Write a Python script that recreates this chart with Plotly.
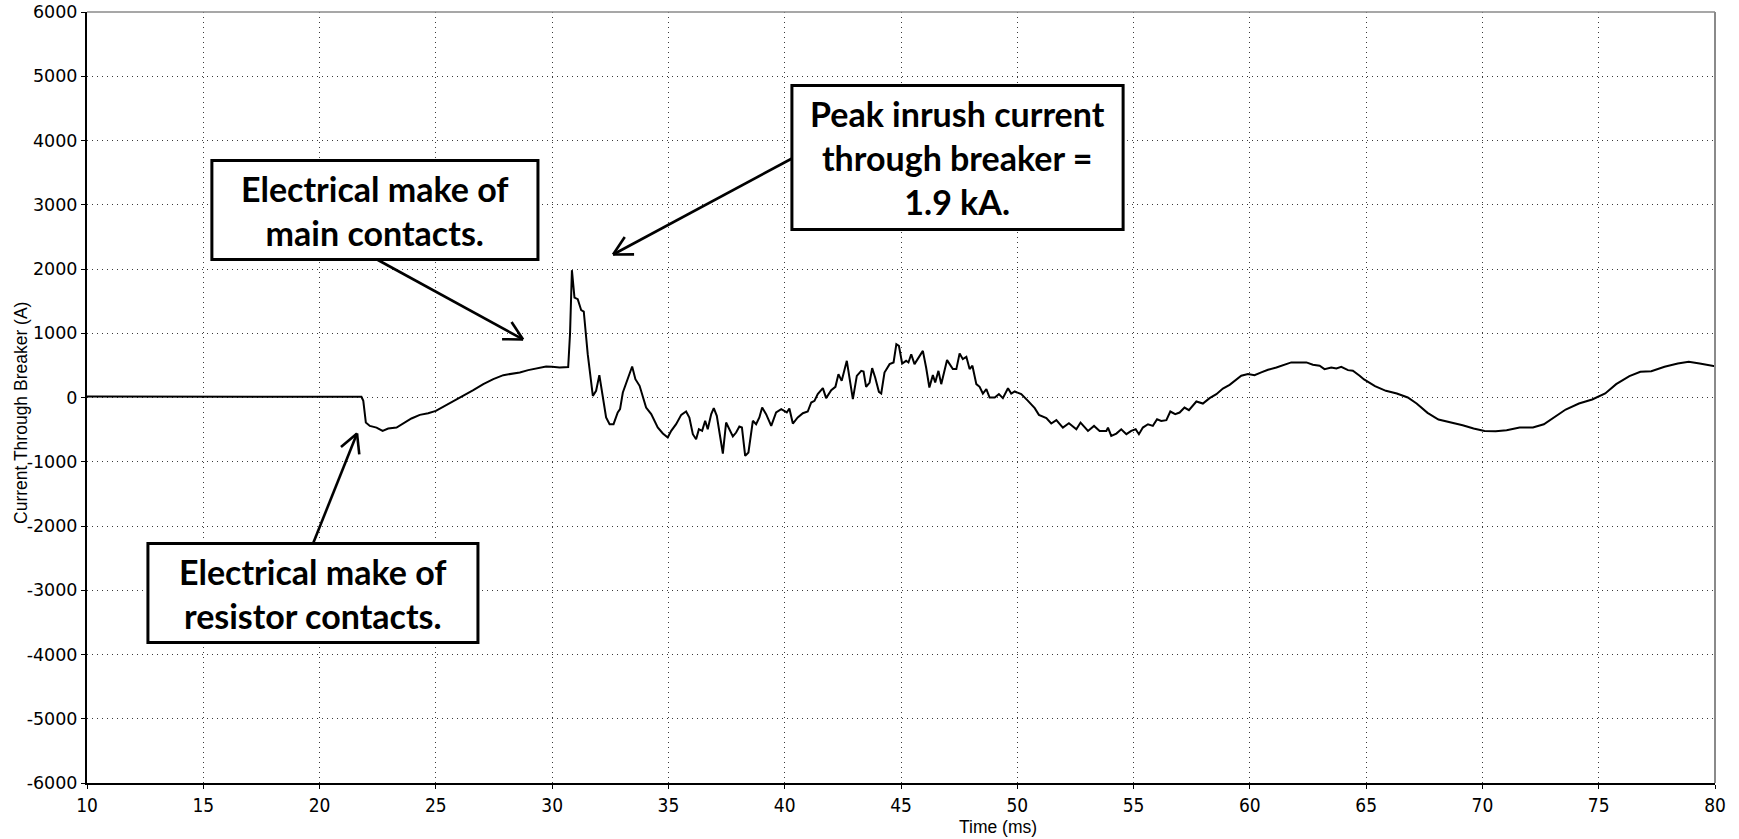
import math
import plotly.graph_objects as go

# ---- data ----
time_ms = [
    10.0, 12.0, 14.0, 16.0, 18.0, 20.0, 21.0, 21.8,
    21.88, 21.99, 22.16, 22.45, 22.71, 22.95, 23.31, 23.67, 23.95, 24.31, 24.67,
    25.0, 25.39, 25.75, 26.18, 26.61, 27.04, 27.47, 27.9, 28.25, 28.61, 28.97,
    29.31, 29.74, 30.0, 30.32, 30.69, 30.77, 30.85, 30.96, 31.1, 31.25, 31.36,
    31.53, 31.75, 31.89, 32.03, 32.15, 32.32, 32.47, 32.64, 32.82, 32.92, 33.04,
    33.25, 33.44, 33.58, 33.76, 34.04, 34.26, 34.54, 34.76, 34.97, 35.12, 35.33,
    35.55, 35.76, 35.9, 36.05, 36.19, 36.31, 36.45, 36.58, 36.69, 36.84, 36.95,
    37.08, 37.2, 37.34, 37.48, 37.62, 37.77, 37.91, 38.05, 38.16, 38.3, 38.44,
    38.63, 38.77, 38.91, 39.03, 39.2, 39.42, 39.63, 39.85, 39.99, 40.09, 40.2,
    40.35, 40.56, 40.78, 40.99, 41.14, 41.28, 41.42, 41.64, 41.78, 42.0, 42.18,
    42.31, 42.45, 42.67, 42.78, 42.93, 43.1, 43.29, 43.39, 43.5, 43.65, 43.76,
    43.89, 44.05, 44.15, 44.29, 44.51, 44.68, 44.8, 44.91, 45.05, 45.22, 45.32,
    45.44, 45.58, 45.79, 45.94, 46.08, 46.22, 46.37, 46.47, 46.61, 46.73, 46.98,
    47.23, 47.38, 47.52, 47.66, 47.81, 47.95, 48.07, 48.24, 48.38, 48.52, 48.67,
    48.81, 49.03, 49.21, 49.38, 49.6, 49.74, 49.89, 50.17, 50.46, 50.75, 50.93,
    51.13, 51.25, 51.46, 51.68, 51.96, 52.22, 52.54, 52.72, 53.04, 53.3, 53.54,
    53.83, 53.9, 54.04, 54.26, 54.47, 54.69, 54.9, 55.09, 55.23, 55.4, 55.62,
    55.83, 56.01, 56.19, 56.41, 56.58, 56.79, 56.98, 57.19, 57.38, 57.7, 57.98,
    58.27, 58.56, 58.84, 59.13, 59.42, 59.63, 59.92, 60.2, 60.49, 60.78, 61.14,
    61.42, 61.78, 62.14, 62.43, 62.71, 63.0, 63.21, 63.5, 63.72, 63.93, 64.22,
    64.43, 64.72, 64.91, 65.38, 65.85, 66.32, 66.79, 67.17, 67.64, 68.11, 68.58,
    69.15, 69.62, 70.09, 70.57, 71.04, 71.6, 72.17, 72.64, 73.11, 73.58, 74.15,
    74.72, 75.28, 75.75, 76.32, 76.79, 77.26, 77.83, 78.4, 78.87, 79.34, 80.0,
]
current_a = [
    15, 14, 16, 15, 14, 16, 15, 12,
    -52, -390, -442, -468, -520, -483, -468, -390, -327, -270, -244,
    -208, -130, -68, 26, 114, 208, 286, 348, 364, 390, 426,
    452, 483, 478, 468, 475, 1000, 1982, 1556, 1530, 1359, 1338,
    674, 26, 104, 348, 52, -311, -415, -415, -233, -182, 78,
    285, 482, 285, 182, -156, -259, -467, -560, -623, -519, -415,
    -270, -218, -311, -571, -649, -493, -519, -363, -493, -259, -166,
    -285, -571, -872, -389, -493, -607, -545, -451, -467, -908, -856,
    -363, -415, -311, -156, -259, -441, -233, -182, -208, -233, -171,
    -405, -311, -244, -218, -78, -52, 52, 145, -10, 114, 166,
    363, 259, 571, 311, -26, 337, 415, 405, 166, 233, 457,
    311, 88, 62, 389, 519, 545, 830, 804, 529, 571, 545,
    674, 519, 649, 726, 467, 156, 348, 233, 415, 208, 582,
    442, 442, 686, 597, 634, 442, 494, 208, 166, 62, 130,
    0, 0, 52, -10, 145, 62, 94, 52, -52, -166, -270,
    -301, -322, -405, -353, -468, -400, -494, -390, -520, -442, -520,
    -520, -468, -597, -561, -494, -571, -520, -494, -571, -468, -416,
    -442, -338, -364, -353, -218, -260, -234, -156, -197, -62, -94,
    -10, 52, 140, 197, 286, 338, 364, 348, 390, 431, 468,
    504, 546, 546, 546, 509, 494, 442, 468, 452, 478, 426,
    416, 338, 281, 177, 104, 62, 0, -94, -239, -343, -379,
    -431, -483, -520, -525, -509, -468, -468, -416, -301, -187, -94,
    -31, 62, 208, 332, 400, 410, 478, 530, 556, 530, 488,
]

x_ticks = [10, 15, 20, 25, 30, 35, 40, 45, 50, 55, 60, 65, 70, 75, 80]
y_ticks = [-6000, -5000, -4000, -3000, -2000, -1000, 0, 1000, 2000, 3000, 4000, 5000, 6000]

box_texts = [
    "Electrical make of<br>main contacts.",
    "Peak inrush current<br>through breaker =<br>1.9 kA.",
    "Electrical make of<br>resistor contacts.",
]

x_title = "Time (ms)"
y_title = "Current Through Breaker (A)"

# ---- layout geometry ----
FIG_W, FIG_H = 1739, 839
M_L, M_R, M_T, M_B = 87, 24, 12, 56
X_RANGE = [10, 80]
Y_RANGE = [-6000, 6000]
px_per_x = (FIG_W - M_L - M_R) / (X_RANGE[1] - X_RANGE[0])
px_per_y = (FIG_H - M_T - M_B) / (Y_RANGE[1] - Y_RANGE[0])

fig = go.Figure()
fig.add_trace(go.Scatter(
    x=time_ms, y=current_a, mode="lines",
    line=dict(color="black", width=2),
    showlegend=False, hoverinfo="skip",
))

grid_color = "#3a3a3a"
fig.update_xaxes(
    range=X_RANGE, tickvals=x_ticks, ticktext=[str(v) for v in x_ticks],
    showgrid=True, gridcolor=grid_color, gridwidth=1, griddash="1px,4px",
    showline=True, linecolor="black", linewidth=2,
    ticks="outside", ticklen=4, tickcolor="black", tickwidth=1,
    tickfont=dict(family="Liberation Sans Narrow, DejaVu Sans Condensed, Arial Narrow, Liberation Sans",
                  size=19, color="black"),
    zeroline=False, ticklabeloverflow="allow",
)
fig.update_yaxes(
    range=Y_RANGE, tickvals=y_ticks, ticktext=[str(v) for v in y_ticks],
    showgrid=True, gridcolor=grid_color, gridwidth=1, griddash="1px,4px",
    showline=True, linecolor="black", linewidth=2,
    ticks="outside", ticklen=4, tickcolor="black", tickwidth=1,
    tickfont=dict(family="DejaVu Sans, Liberation Sans, Arial", size=17.5, color="black"),
    zeroline=False, ticklabeloverflow="allow",
)

shapes = [
    dict(type="line", xref="paper", yref="paper", x0=0, x1=1, y0=1, y1=1,
         line=dict(color="#8a8a8a", width=1.5)),
    dict(type="line", xref="paper", yref="paper", x0=1, x1=1, y0=0, y1=1,
         line=dict(color="#8a8a8a", width=2)),
    dict(type="rect", xref="x", yref="y", x0=15.37, x1=29.39, y0=2148, y1=3689,
         line=dict(color="black", width=3), fillcolor="white", layer="above"),
    dict(type="rect", xref="x", yref="y", x0=40.31, x1=54.55, y0=2615, y1=4856,
         line=dict(color="black", width=3), fillcolor="white", layer="above"),
    dict(type="rect", xref="x", yref="y", x0=12.62, x1=26.81, y0=-3813, y1=-2272,
         line=dict(color="black", width=3), fillcolor="white", layer="above"),
]


def arrow_shapes(tail, head, wing_px=21, angle_deg=28, width=2.6):
    """Open V-headed arrow from tail to head (data coords)."""
    out = [dict(type="line", xref="x", yref="y", x0=tail[0], y0=tail[1],
                x1=head[0], y1=head[1], line=dict(color="black", width=width),
                layer="above")]
    dxp = (tail[0] - head[0]) * px_per_x
    dyp = (tail[1] - head[1]) * px_per_y
    n = math.hypot(dxp, dyp)
    ux, uy = dxp / n, dyp / n
    for sgn in (1, -1):
        a = math.radians(angle_deg) * sgn
        wx = ux * math.cos(a) - uy * math.sin(a)
        wy = ux * math.sin(a) + uy * math.cos(a)
        out.append(dict(type="line", xref="x", yref="y", x0=head[0], y0=head[1],
                        x1=head[0] + wx * wing_px / px_per_x,
                        y1=head[1] + wy * wing_px / px_per_y,
                        line=dict(color="black", width=width), layer="above"))
    return out


shapes += arrow_shapes((22.47, 2148), (28.75, 903))
shapes += arrow_shapes((40.31, 3720), (32.62, 2226))
shapes += arrow_shapes((19.72, -2272), (21.61, -560))

box_font = dict(family="Lato, Carlito, Calibri, sans-serif", size=34, color="black")
annotations = [
    dict(x=22.38, y=2918, xref="x", yref="y", text="<b>" + box_texts[0] + "</b>",
         showarrow=False, font=box_font, align="center"),
    dict(x=47.43, y=3735, xref="x", yref="y", text="<b>" + box_texts[1] + "</b>",
         showarrow=False, font=box_font, align="center"),
    dict(x=19.72, y=-3043, xref="x", yref="y", text="<b>" + box_texts[2] + "</b>",
         showarrow=False, font=box_font, align="center"),
    dict(x=0.5596, y=-0.057, xref="paper", yref="paper", text=x_title, showarrow=False,
         font=dict(family="Liberation Sans, Arial", size=17.5, color="black"),
         xanchor="center", yanchor="middle"),
    dict(x=-0.0405, y=0.48, xref="paper", yref="paper", text=y_title, showarrow=False,
         textangle=-90,
         font=dict(family="Liberation Sans, Arial", size=17.5, color="black"),
         xanchor="center", yanchor="middle"),
]

fig.update_layout(
    width=FIG_W, height=FIG_H,
    margin=dict(l=M_L, r=M_R, t=M_T, b=M_B, autoexpand=False),
    paper_bgcolor="white", plot_bgcolor="white",
    shapes=shapes, annotations=annotations,
    showlegend=False,
)

# remove the default 8px page margin so the figure sits at the window's corner
fig.write_html("out.html", config={"displayModeBar": False},
               post_script="document.body.style.margin='0px';")
